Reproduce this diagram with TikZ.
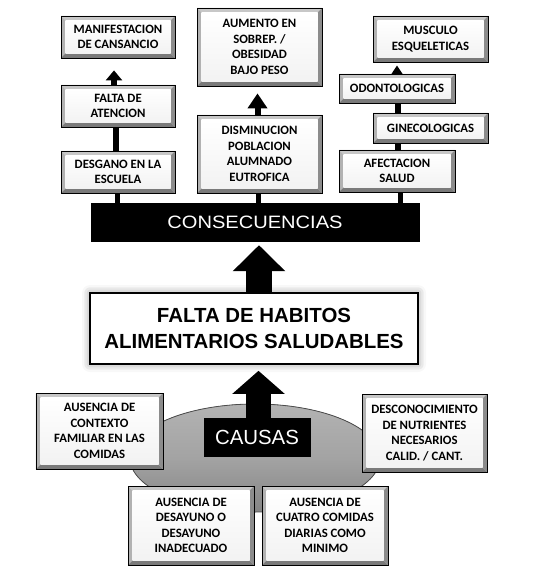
\documentclass[tikz,border=0pt]{standalone}
\usepackage{fontspec}
\setmainfont{Carlito}
\newfontfamily\arialfont{Liberation Sans}
\usetikzlibrary{arrows.meta,shadows.blur,calc}
\newcommand\boxfont{\fontsize{12.8}{15.5}\selectfont\bfseries}
\tikzset{
  bevelbox/.style={draw=black, line width=0.8bp, fill=white, inner sep=0pt, align=center,
    font=\boxfont,
    path picture={
      \coordinate (bbsw) at (path picture bounding box.south west);
      \coordinate (bbne) at (path picture bounding box.north east);
      \coordinate (bbnw) at (path picture bounding box.north west);
      \coordinate (bbse) at (path picture bounding box.south east);
      \fill[black!22] (bbnw) -- (bbne) -- ([shift={(-4.5bp,-4.5bp)}]bbne) -- ([shift={(4.5bp,-4.5bp)}]bbnw) -- cycle;
      \fill[black!30] (bbnw) -- (bbsw) -- ([shift={(4.5bp,4.5bp)}]bbsw) -- ([shift={(4.5bp,-4.5bp)}]bbnw) -- cycle;
      \fill[black!45] (bbne) -- (bbse) -- ([shift={(-4.5bp,4.5bp)}]bbse) -- ([shift={(-4.5bp,-4.5bp)}]bbne) -- cycle;
      \fill[black!52] (bbsw) -- (bbse) -- ([shift={(-4.5bp,4.5bp)}]bbse) -- ([shift={(4.5bp,4.5bp)}]bbsw) -- cycle;
      \shade[top color=white, bottom color=black!5] ([shift={(4.5bp,4.5bp)}]bbsw) rectangle ([shift={(-4.5bp,-4.5bp)}]bbne);
    }},
  blackbar/.style={fill=black, draw=black, inner sep=0pt, text=white, align=center},
  thinconn/.style={line width=6bp, draw=black},
  barconn/.style={line width=5bp, draw=black},
}
\begin{document}
\begin{tikzpicture}[x=1bp,y=-1bp]
\useasboundingbox (0,0) rectangle (555,580);
% consequences column boxes
\node[bevelbox, minimum width=114bp, minimum height=42bp] (manif) at (118,37) {MANIFESTACION\\DE CANSANCIO};
\node[bevelbox, minimum width=114bp, minimum height=42bp] (atenc) at (118,106) {FALTA DE\\ATENCION};
\node[bevelbox, minimum width=114bp, minimum height=42bp] (desg) at (118,172) {DESGANO EN LA\\ESCUELA};
\node[bevelbox, minimum width=125bp, minimum height=78bp] (aum) at (259.5,47) {AUMENTO EN\\SOBREP. /\\OBESIDAD\\BAJO PESO};
\node[bevelbox, minimum width=125bp, minimum height=78bp] (dism) at (259.5,154) {DISMINUCION\\POBLACION\\ALUMNADO\\EUTROFICA};
\node[bevelbox, minimum width=115bp, minimum height=46bp] (musc) at (430.5,39) {MUSCULO\\ESQUELETICAS};
\node[bevelbox, minimum width=116bp, minimum height=29bp] (odon) at (397,88.5) {ODONTOLOGICAS};
\node[bevelbox, minimum width=115bp, minimum height=30bp] (gine) at (430.5,128) {GINECOLOGICAS};
\node[bevelbox, minimum width=116bp, minimum height=42bp] (afec) at (397,171) {AFECTACION\\SALUD};
% consequences bar
\node[blackbar, minimum width=328bp, minimum height=38bp, font=\arialfont\fontsize{18}{20}\selectfont] (conse) at (255,222) {\scalebox{1.12}[1]{CONSECUENCIAS}};
% column connectors
\draw[thinconn, -{Triangle[width=16bp,length=10bp]}, shorten >=12bp] ([xshift=-4bp]atenc.north) -- ([xshift=-4bp]manif.south);
\draw[thinconn] ([xshift=-2bp]desg.north) -- ([xshift=-2bp]atenc.south);
\draw[thinconn, -{Triangle[width=19bp,length=15bp]}, shorten >=7bp] ([xshift=-2bp]dism.north) -- ([xshift=-2bp]aum.south);
\draw[thinconn] ([xshift=1bp]afec.north) -- ([xshift=1bp]afec.north |- gine.south);
\draw[thinconn] ([xshift=1bp]afec.north |- gine.north) -- ([xshift=1bp]odon.south);
\draw[thinconn, -{Triangle[width=11bp,length=9bp]}, shorten >=3bp] (odon.north) -- (odon.north |- musc.south);
\draw[barconn] ([xshift=-1bp]desg.south) -- ([xshift=-1bp]desg.south |- conse.north);
\draw[barconn] ([xshift=-1.5bp]dism.south) -- ([xshift=-1.5bp]dism.south |- conse.north);
\draw[barconn] ([xshift=3bp]afec.south) -- ([xshift=3bp]afec.south |- conse.north);
% central problem
\node[draw=black, line width=1.6bp, fill=white, inner sep=0pt, align=center,
  minimum width=328bp, minimum height=71bp,
  blur shadow={shadow xshift=0bp, shadow yshift=0bp, shadow blur radius=8bp, shadow opacity=45},
  font=\arialfont\bfseries\fontsize{20.5}{26}\selectfont] (falta) at (254,328.5) {FALTA DE HABITOS\\ALIMENTARIOS SALUDABLES};
\draw[line width=26bp, draw=black, -{Triangle[width=51bp,length=26bp]}, shorten >=4bp]
  ([xshift=5bp]falta.north) -- ([xshift=5bp]falta.north |- conse.south);
% causes
\fill[top color=black!30, bottom color=black!48, middle color=black!36, draw=black!70, line width=0.8bp] (255,458) ellipse [x radius=125, y radius=54];
\node[blackbar, minimum width=106bp, minimum height=38bp, font=\arialfont\fontsize{20.5}{22}\selectfont] (causas) at (257,437) {CAUSAS};
\draw[line width=25bp, draw=black, -{Triangle[width=51bp,length=23bp]}, shorten >=6bp]
  ([xshift=1.5bp]causas.north) -- ([xshift=1.5bp]causas.north |- falta.south);
\node[bevelbox, minimum width=127bp, minimum height=76bp] (ctx) at (99.5,431) {AUSENCIA DE\\CONTEXTO\\FAMILIAR EN LAS\\COMIDAS};
\node[bevelbox, minimum width=125bp, minimum height=78bp] (desc) at (424.5,433) {DESCONOCIMIENTO\\DE NUTRIENTES\\NECESARIOS\\CALID. / CANT.};
\node[bevelbox, minimum width=126bp, minimum height=79bp] (desay) at (191,525.5) {AUSENCIA DE\\DESAYUNO O\\DESAYUNO\\INADECUADO};
\node[bevelbox, minimum width=126bp, minimum height=79bp] (cuatro) at (325,525.5) {AUSENCIA DE\\CUATRO COMIDAS\\DIARIAS COMO\\MINIMO};
\end{tikzpicture}
\end{document}
